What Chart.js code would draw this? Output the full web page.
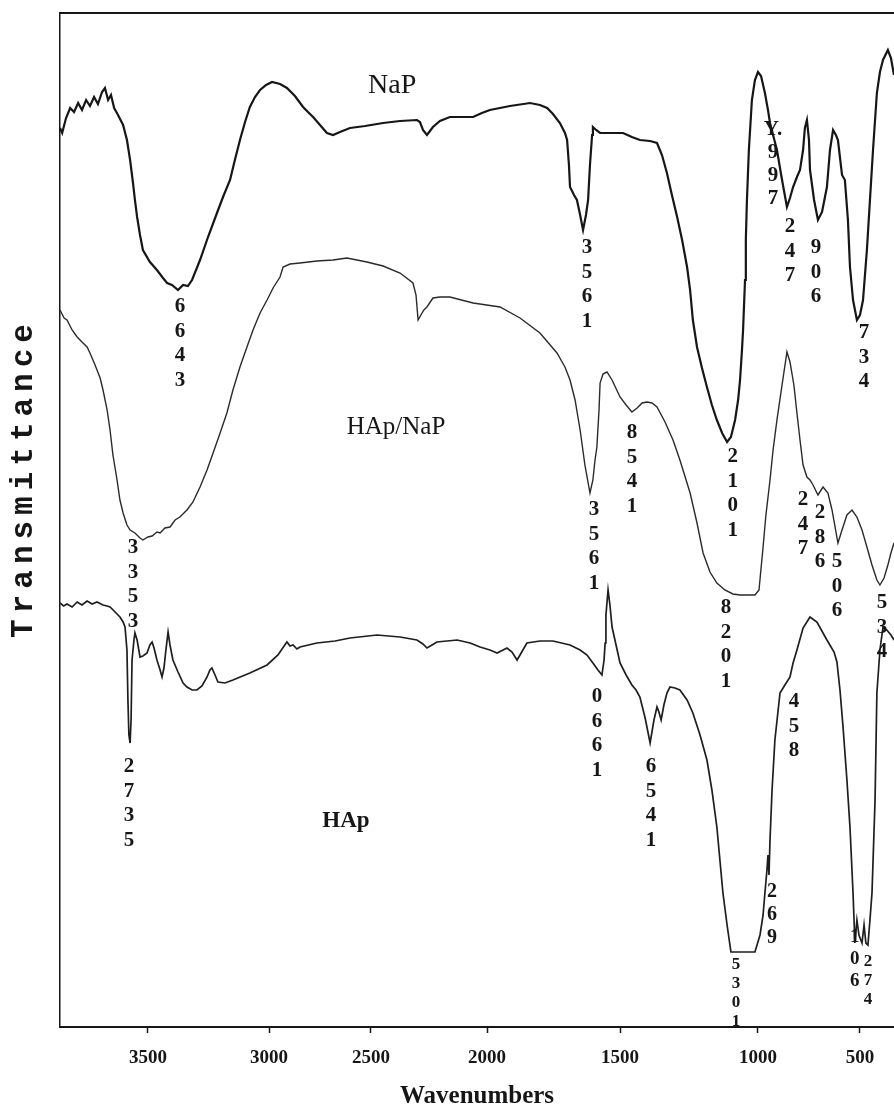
<!DOCTYPE html>
<html>
<head>
<meta charset="utf-8">
<script src="https://cdn.jsdelivr.net/npm/chart.js"></script>
<style>
html,body{margin:0;padding:0;background:#fff;overflow:hidden}
#wrap{width:894px;height:1115px;position:relative}
</style>
</head>
<body>
<div id="wrap"><canvas id="c" width="894" height="1115"></canvas></div>
<script>
// ---------------- DATA ----------------
const tickValues = [3500, 3000, 2500, 2000, 1500, 1000, 500];
const seriesNames = ['NaP', 'HAp/NaP', 'HAp'];

// [wavenumber (cm-1), transmittance (a.u.)]
const napSpectrum = [
[3864,89.9],[3855,89.4],[3839,90.9],[3822,91.9],[3806,91.5],[3789,92.4],[3773,91.7],[3756,92.7],[3740,92.1],[3723,93.0],
[3707,92.3],[3690,93.5],[3678,93.9],[3665,92.7],[3653,93.2],[3640,91.9],[3624,91.2],[3603,90.2],[3587,88.7],[3574,86.7],
[3562,84.4],[3554,82.7],[3545,81.0],[3533,79.2],[3521,77.7],[3492,76.5],[3463,75.7],[3438,74.9],[3421,74.4],[3401,74.2],
[3376,73.7],[3355,74.2],[3335,74.1],[3318,74.7],[3285,76.7],[3252,79.0],[3215,81.4],[3190,83.0],[3161,84.7],[3141,86.7],
[3120,88.7],[3099,90.5],[3079,92.0],[3058,93.0],[3037,93.7],[3012,94.2],[2985,94.5],[2946,94.3],[2912,93.9],[2873,93.1],
[2833,92.0],[2809,91.5],[2784,91.0],[2750,90.2],[2716,89.4],[2686,89.2],[2652,89.5],[2603,89.9],[2529,90.1],[2448,90.4],
[2375,90.6],[2302,90.7],[2289,90.5],[2276,89.7],[2259,89.2],[2246,89.6],[2233,90.0],[2203,90.6],[2160,91.0],[2116,91.0],
[2060,91.0],[2022,91.4],[1989,91.7],[1914,92.1],[1838,92.4],[1801,92.2],[1774,91.9],[1752,91.3],[1726,90.4],[1707,89.4],
[1699,88.7],[1692,86.2],[1688,84.0],[1673,83.2],[1662,82.7],[1650,81.2],[1639,79.7],[1628,81.2],[1620,82.7],[1613,86.2],
[1605,89.2],[1602,90.0],[1590,89.7],[1575,89.4],[1530,89.4],[1489,89.4],[1457,89.0],[1428,88.7],[1391,88.6],[1366,88.4],
[1348,87.2],[1330,85.4],[1312,83.2],[1293,81.0],[1275,78.7],[1257,76.0],[1246,73.7],[1236,70.7],[1221,68.0],[1203,65.9],
[1185,64.0],[1167,62.2],[1149,60.7],[1130,59.4],[1112,58.5],[1098,59.0],[1083,60.7],[1072,62.7],[1065,64.7],[1058,67.7],
[1054,69.7],[1047,74.7],[1044,78.7],[1040,82.7],[1033,87.7],[1022,92.7],[1011,94.7],[1000,95.5],[985,95.1],[966,93.4],
[951,91.7],[941,90.4],[926,89.2],[907,87.7],[882,84.7],[858,82.0],[843,82.9],[828,84.0],[809,85.0],[794,85.7],
[779,87.7],[770,89.9],[760,90.7],[750,88.7],[745,85.7],[725,82.7],[706,80.7],[686,81.5],[662,84.0],[647,87.7],
[632,89.7],[618,89.2],[608,88.7],[588,85.2],[574,84.7],[559,80.7],[549,76.0],[534,72.7],[515,70.7],[500,71.2],
[485,72.7],[466,77.7],[451,82.7],[436,87.7],[417,93.4],[402,95.5],[387,96.7],[363,97.7],[348,96.9],[333,95.2]
];

const hapNapSpectrum = [
[3864,71.7],[3847,70.9],[3835,70.7],[3814,69.7],[3793,69.0],[3773,68.5],[3752,68.0],[3740,67.4],[3719,66.2],[3698,64.9],
[3686,63.7],[3669,61.7],[3657,59.7],[3645,57.2],[3628,54.7],[3616,52.7],[3603,51.4],[3587,50.2],[3574,49.7],[3554,49.4],
[3533,48.9],[3521,48.7],[3500,49.0],[3483,49.1],[3463,49.5],[3450,49.4],[3430,49.9],[3409,50.0],[3388,50.7],[3368,51.0],
[3339,51.7],[3314,52.5],[3285,54.0],[3256,55.7],[3231,57.4],[3202,59.4],[3174,61.4],[3149,63.7],[3120,66.0],[3091,68.0],
[3066,69.7],[3037,71.4],[3008,72.7],[2980,73.9],[2946,75.0],[2931,76.0],[2897,76.3],[2848,76.4],[2765,76.6],[2686,76.7],
[2618,76.9],[2520,76.5],[2448,76.1],[2375,75.4],[2319,74.4],[2306,73.2],[2297,70.7],[2285,71.2],[2272,71.7],[2259,72.0],
[2233,72.9],[2203,73.0],[2160,73.0],[2060,72.4],[1951,72.0],[1876,70.9],[1801,69.4],[1737,67.4],[1707,66.0],[1688,64.7],
[1669,62.7],[1650,59.7],[1632,56.2],[1613,53.4],[1602,54.7],[1594,56.7],[1587,58.0],[1579,61.7],[1575,64.4],[1564,65.3],
[1549,65.5],[1530,64.7],[1500,63.0],[1478,62.2],[1457,61.5],[1438,61.9],[1420,62.4],[1402,62.5],[1384,62.4],[1366,62.0],
[1337,60.5],[1308,58.7],[1283,56.7],[1246,53.4],[1221,50.4],[1199,47.4],[1174,45.5],[1149,44.4],[1120,43.7],[1091,43.3],
[1065,43.2],[1036,43.2],[1011,43.2],[995,43.7],[975,48.0],[961,51.2],[941,54.7],[926,57.7],[907,60.7],[882,64.2],
[858,67.5],[843,66.5],[824,64.2],[809,61.4],[794,58.7],[779,56.2],[760,55.0],[745,54.7],[730,54.2],[706,53.2],
[681,54.0],[657,53.4],[637,51.7],[608,48.4],[588,49.7],[564,51.2],[539,51.7],[515,51.0],[490,49.7],[466,48.0],
[441,46.2],[417,44.7],[402,44.2],[382,44.9],[363,46.2],[348,47.4],[333,48.4]
];

const hapSpectrum = [
[3864,42.4],[3849,42.1],[3835,42.3],[3814,42.0],[3793,42.5],[3773,42.2],[3752,42.6],[3731,42.3],[3711,42.5],[3686,42.2],
[3669,42.1],[3657,42.0],[3640,41.6],[3628,41.3],[3616,41.0],[3603,40.5],[3595,40.0],[3587,37.7],[3583,32.7],[3579,29.2],
[3574,28.4],[3570,30.7],[3566,36.7],[3558,38.7],[3554,39.4],[3545,38.7],[3533,37.0],[3521,37.1],[3504,37.4],[3492,38.2],
[3483,38.5],[3475,37.9],[3463,36.7],[3450,35.7],[3442,35.0],[3434,35.9],[3426,37.7],[3417,39.5],[3409,38.2],[3397,36.7],
[3376,35.5],[3355,34.4],[3339,34.0],[3318,33.7],[3298,33.7],[3277,34.1],[3256,35.0],[3244,35.7],[3236,35.9],[3223,35.2],
[3211,34.5],[3182,34.4],[3149,34.7],[3079,35.4],[3008,36.2],[2956,37.2],[2926,38.1],[2912,38.5],[2897,38.1],[2882,38.2],
[2863,37.8],[2848,38.0],[2765,38.4],[2676,38.6],[2603,38.9],[2474,39.2],[2375,39.0],[2302,38.7],[2276,38.3],[2259,37.9],
[2237,38.2],[2216,38.5],[2172,38.6],[2129,38.7],[2073,38.4],[2030,38.0],[1989,37.7],[1962,37.4],[1925,37.9],[1906,37.5],
[1887,36.7],[1876,37.2],[1850,38.4],[1801,38.6],[1752,38.6],[1688,38.2],[1650,37.7],[1624,37.2],[1602,36.4],[1583,35.7],
[1568,35.2],[1560,36.7],[1556,38.4],[1553,41.2],[1545,43.7],[1538,42.2],[1530,40.0],[1515,38.2],[1500,36.4],[1478,35.2],
[1457,34.2],[1442,33.7],[1428,33.0],[1409,30.9],[1391,28.4],[1377,30.7],[1366,32.0],[1359,31.5],[1351,30.7],[1341,32.2],
[1330,33.4],[1319,34.0],[1301,33.9],[1283,33.7],[1257,32.7],[1236,31.4],[1210,29.2],[1185,26.7],[1167,23.7],[1149,20.0],
[1138,16.7],[1127,13.4],[1112,10.2],[1098,7.5],[1065,7.5],[1036,7.5],[1011,7.5],[990,9.2],[975,11.2],[966,13.4],
[956,15.7],[951,17.2],[946,15.2],[941,18.7],[931,23.7],[917,28.7],[892,33.4],[868,34.2],[843,35.0],[828,36.4],
[809,37.7],[779,39.9],[745,41.0],[711,40.5],[662,38.7],[627,37.5],[613,36.5],[598,33.7],[583,30.0],[564,24.7],
[549,20.0],[534,13.4],[525,8.4],[515,10.7],[505,9.2],[490,8.4],[480,10.2],[471,8.4],[461,8.2],[451,10.7],
[441,13.4],[426,22.7],[417,33.4],[402,37.7],[387,40.0],[368,39.7],[348,39.2],[333,38.7]
];

// Peak annotations: digits stacked top-to-bottom, anchored at [wavenumber, transmittance] of the first line
const napPeakLabels = [
  {text:'6 6 4 3', wn:3368, t:72.0},
  {text:'3 5 6 1', wn:1624, t:77.9},
  {text:'Y. 9 9 7', wn:926, t:89.7},
  {text:'2 4 7', wn:843, t:80.0},
  {text:'9 0 6', wn:716, t:77.9},
  {text:'7 3 4', wn:480, t:69.4},
  {text:'2 1 0 1', wn:1091, t:57.0}
];
const hapNapPeakLabels = [
  {text:'3 3 5 3', wn:3562, t:47.9},
  {text:'3 5 6 1', wn:1598, t:51.7},
  {text:'8 5 4 1', wn:1457, t:59.4},
  {text:'8 2 0 1', wn:1116, t:41.9},
  {text:'2 4 7', wn:779, t:52.7},
  {text:'2 8 6', wn:696, t:51.4},
  {text:'5 0 6', wn:613, t:46.5},
  {text:'5 3 4', wn:392, t:42.4}
];
const hapPeakLabels = [
  {text:'2 7 3 5', wn:3579, t:26.0},
  {text:'0 6 6 1', wn:1587, t:33.0},
  {text:'6 5 4 1', wn:1388, t:26.0},
  {text:'4 5 8', wn:824, t:32.5},
  {text:'2 6 9', wn:931, t:13.5},
  {text:'5 3 0 1', wn:1080, t:6.2},
  {text:'1 0 6', wn:525, t:9.0},
  {text:'2 7 4', wn:461, t:6.5}
];
// Series name anchors [wavenumber, transmittance]
const seriesNameAnchors = [[2409, 94.1], [2392, 60.0], [2623, 20.6]];

// ---------------- STYLE ----------------
const ink = '#161616';
const compactLabels = {'5 3 0 1': {size:17, step:19}, '2 7 4': {size:17, step:19}, '1 0 6': {size:19, step:22}, '2 6 9': {size:20, step:23}, 'Y. 9 9 7': {size:21, step:23}};
const nameFonts = ['normal 28px "Liberation Serif"', 'normal 25px "Liberation Serif"', 'bold 23px "Liberation Serif"'];

// Wavenumber axis of the original figure is drawn with unequal spacing between ticks;
// anchors give [value, fraction of axis width].
const axisAnchors = [[3864,0],[3500,0.1055],[3000,0.2506],[2500,0.3729],[2000,0.5120],[1500,0.6715],[1000,0.8369],[500,0.9592],[333,1]];

class SegmentedWavenumberScale extends Chart.LinearScale {
  static id = 'segmentedWavenumber';
  static defaults = {};
  _frac(v) {
    const a = axisAnchors;
    let i = 0;
    if (v <= a[a.length - 1][0]) i = a.length - 2;
    else if (v < a[0][0]) { while (!(v <= a[i][0] && v >= a[i + 1][0])) i++; }
    const [v0, f0] = a[i], [v1, f1] = a[i + 1];
    return f0 + (v0 - v) / (v0 - v1) * (f1 - f0);
  }
  getPixelForValue(v) { return this.left + this._frac(v) * this.width; }
  getValueForPixel(p) {
    const f = (p - this.left) / this.width, a = axisAnchors;
    let i = 0;
    if (f >= a[a.length - 1][1]) i = a.length - 2;
    else if (f > 0) { while (!(f >= a[i][1] && f <= a[i + 1][1])) i++; }
    const [v0, f0] = a[i], [v1, f1] = a[i + 1];
    return v0 - (f - f0) / (f1 - f0) * (v0 - v1);
  }
}
class SpacedTitleLinearScale extends Chart.LinearScale {
  static id = 'spacedTitleLinear';
  static defaults = {};
  drawTitle() {
    const ctx = this.ctx;
    ctx.save();
    ctx.letterSpacing = '6px';
    ctx.translate(0, -42);
    super.drawTitle();
    ctx.restore();
  }
}
Chart.register(SegmentedWavenumberScale, SpacedTitleLinearScale);

const annotationPlugin = {
  id: 'spectrumAnnotations',
  afterDatasetsDraw(chart) {
    const {ctx, scales: {x, y}} = chart;
    ctx.save();
    ctx.fillStyle = ink;
    ctx.textAlign = 'center';
    ctx.textBaseline = 'middle';
    seriesNames.forEach((name, i) => {
      ctx.font = nameFonts[i];
      ctx.fillText(name, x.getPixelForValue(seriesNameAnchors[i][0]), y.getPixelForValue(seriesNameAnchors[i][1]));
    });
    [napPeakLabels, hapNapPeakLabels, hapPeakLabels].forEach(list => list.forEach(l => {
      const st = compactLabels[l.text] || {size:21, step:24.5};
      ctx.font = 'bold ' + st.size + 'px "Liberation Serif"';
      const px = x.getPixelForValue(l.wn), py = y.getPixelForValue(l.t);
      l.text.split(' ').forEach((ch, k) => ctx.fillText(ch, px, py + k * st.step));
    }));
    ctx.restore();
  }
};

const toXY = arr => arr.map(([wn, t]) => ({x: wn, y: t}));

new Chart(document.getElementById('c'), {
  type: 'line',
  data: {
    datasets: [
      {label: seriesNames[0], data: toXY(napSpectrum), borderColor: ink, borderWidth: 2.2, pointRadius: 0, tension: 0},
      {label: seriesNames[1], data: toXY(hapNapSpectrum), borderColor: '#2a2a2a', borderWidth: 1.4, pointRadius: 0, tension: 0},
      {label: seriesNames[2], data: toXY(hapSpectrum), borderColor: '#1e1e1e', borderWidth: 1.7, pointRadius: 0, tension: 0}
    ]
  },
  options: {
    responsive: false,
    animation: false,
    devicePixelRatio: 1,
    layout: {padding: {top: 13, left: 0, right: 0, bottom: 0}},
    plugins: {legend: {display: false}, tooltip: {enabled: false}},
    scales: {
      x: {
        type: 'segmentedWavenumber', position: 'bottom', min: 333, max: 3864,
        afterBuildTicks: s => { s.ticks = tickValues.map(v => ({value: v})); },
        afterFit: s => { s.height = 88; },
        border: {display: true, color: ink, width: 2},
        grid: {display: true, drawOnChartArea: false, drawTicks: true, tickLength: 6, tickColor: ink, tickWidth: 1.5},
        ticks: {color: ink, padding: 14, maxRotation: 0, autoSkip: false, font: {family: 'Liberation Serif', size: 19, weight: 'bold'}, callback: v => String(v)},
        title: {display: true, text: 'Wavenumbers', color: ink, font: {family: 'Liberation Serif', size: 25, weight: 'bold'}, padding: {top: 0, bottom: 3}}
      },
      xTop: {
        type: 'linear', position: 'top', min: 333, max: 3864, reverse: true,
        afterFit: s => { s.height = 0; },
        border: {display: true, color: ink, width: 2},
        grid: {display: false},
        ticks: {display: false}
      },
      y: {
        type: 'spacedTitleLinear', position: 'left', min: 0, max: 101.4,
        afterFit: s => { s.width = 60; },
        border: {display: true, color: ink, width: 1.5},
        grid: {display: false},
        ticks: {display: false},
        title: {display: true, text: 'Transmittance', color: ink, font: {family: 'Liberation Mono', size: 31, weight: 'bold'}, padding: {top: 6, bottom: 0}}
      }
    }
  },
  plugins: [annotationPlugin]
});
</script>
</body>
</html>
